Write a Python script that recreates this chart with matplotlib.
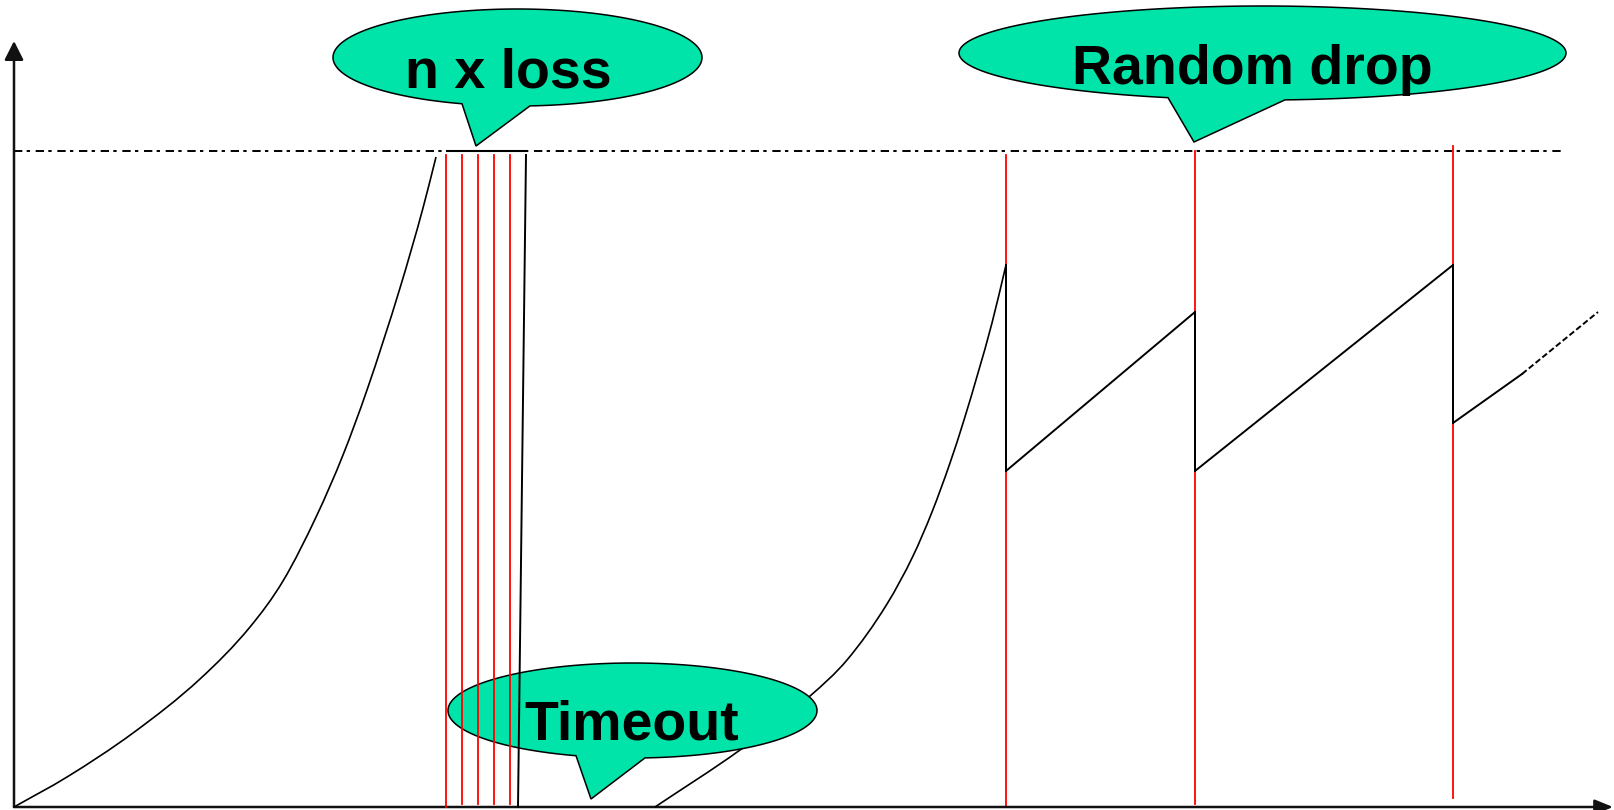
import numpy as np
import matplotlib.pyplot as plt
from matplotlib.patches import Polygon, PathPatch
from matplotlib.path import Path

plt.rcParams['lines.scale_dashes'] = False

# --- data: congestion window vs time (arbitrary units) ---
# slow start up to the n x loss event
ss1_t = [0, 53, 119, 186, 236, 269, 303, 329, 353, 386, 409, 422]
ss1_w = [0, 30, 74, 128, 180, 226, 292, 352, 417, 519, 599, 650]

# window sits at the threshold while the losses happen, then collapses
flat_t = [433, 513]
fall_t = [512, 504]
fall_w = [652, 0]

# slow start again after the timeout
ss2_t = [641, 726, 796, 833, 873, 899, 918, 936, 950, 964, 978, 992]
ss2_w = [0, 57, 111, 147, 203, 251, 295, 344, 387, 434, 484, 542]

# congestion avoidance sawtooth (random drops)
ca_t = [992, 992, 1181, 1181, 1439, 1439, 1508]
ca_w = [542, 336, 495, 336, 542, 384, 433]
ca_next_t = [1508, 1584]
ca_next_w = [433, 495]

threshold = 656
loss_t = [432, 448, 464, 480, 496]
loss_bottom = [0, 3, 3, 3, 3]
drop_t = [992, 1181, 1439]
drop_top = [652, 656, 661]
drop_bottom = [0, 3, 9]

BUBBLE = "#00E3A9"

fig = plt.figure(figsize=(16.14, 8.10), dpi=100)
ax = fig.add_axes([0, 0, 1, 1])
ax.set_xlim(-14, 1600)
ax.set_ylim(-3, 807)
ax.axis("off")

# axes with arrow heads
ax.annotate("", xy=(0, 766), xytext=(0, 0),
            arrowprops=dict(arrowstyle="-|>,head_length=1.15,head_width=0.58",
                            mutation_scale=10, lw=1.8, color="#111111",
                            shrinkA=0, shrinkB=0))
ax.annotate("", xy=(1599, 0), xytext=(0, 0),
            arrowprops=dict(arrowstyle="-|>,head_length=1.1,head_width=0.45",
                            mutation_scale=10, lw=1.8, color="#111111",
                            shrinkA=0, shrinkB=0))

# threshold line
ax.plot([0, 1548], [threshold, threshold], color="black", lw=1.4,
        dashes=[6, 3.1, 2.4, 4.1], zorder=2)


def smooth(xs, ys):
    # smooth curve through the read points (cubic Hermite drawn as Bezier)
    x = np.asarray(xs, float)
    y = np.asarray(ys, float)
    sec = np.diff(y) / np.diff(x)
    m = np.empty_like(x)
    m[0], m[-1] = sec[0], sec[-1]
    m[1:-1] = (sec[:-1] + sec[1:]) / 2
    verts, codes = [(x[0], y[0])], [Path.MOVETO]
    for i in range(len(x) - 1):
        h = (x[i + 1] - x[i]) / 3
        verts += [(x[i] + h, y[i] + m[i] * h),
                  (x[i + 1] - h, y[i + 1] - m[i + 1] * h),
                  (x[i + 1], y[i + 1])]
        codes += [Path.CURVE4] * 3
    return Path(verts, codes)


# window curves
ax.add_patch(PathPatch(smooth(ss1_t, ss1_w), fill=False, edgecolor="black",
                       lw=1.2, zorder=3))
ax.plot(flat_t, [threshold, threshold], color="black", lw=1.5, zorder=3)
ax.add_patch(PathPatch(smooth(ss2_t, ss2_w), fill=False, edgecolor="black",
                       lw=1.2, zorder=3))
ax.plot(ca_t, ca_w, color="black", lw=1.4, zorder=3)
ax.plot(ca_next_t, ca_next_w, color="black", lw=1.4, dashes=[4.3, 2.0], zorder=3)


def bubble(cx, cy, a, b, base_l, base_r, tip, text, tx, ty):
    t1 = -np.arccos((base_l - cx) / a)
    t2 = -np.arccos((base_r - cx) / a)
    th = np.linspace(t2, t1 + 2 * np.pi, 300)
    pts = np.column_stack([cx + a * np.cos(th), cy + b * np.sin(th)])
    pts = np.vstack([pts, [tip]])
    ax.add_patch(Polygon(pts, closed=True, facecolor=BUBBLE, edgecolor="black",
                         lw=1.1, zorder=4))
    ax.text(tx, ty, text, ha="center", va="baseline", fontsize=40,
            fontweight="bold", family="Liberation Sans", zorder=5)


bubble(503.5, 749.5, 184.5, 48.5, 448, 516, (462, 661), "n x loss", 494, 720)
bubble(618.5, 96.5, 184.5, 47.5, 562, 631, (577, 8), "Timeout", 618, 68)
bubble(1248.5, 754, 303.5, 47, 1154, 1271, (1180, 665), "Random drop", 1238, 723)

# losses and drops (drawn over the timeout bubble)
for t, lo in zip(loss_t, loss_bottom):
    ax.plot([t, t], [652, lo], color="red", lw=1.3, zorder=6)
ax.plot(fall_t, fall_w, color="black", lw=1.4, zorder=6)
for t, hi, lo in zip(drop_t, drop_top, drop_bottom):
    ax.plot([t, t], [hi, lo], color="red", lw=1.3, zorder=2)
# the sawtooth drops sit on top of the red lines
for i in range(0, len(ca_t) - 1):
    if ca_t[i] == ca_t[i + 1]:
        ax.plot(ca_t[i:i + 2], ca_w[i:i + 2], color="black", lw=1.4, zorder=3)

fig.savefig("out.png", dpi=100)
